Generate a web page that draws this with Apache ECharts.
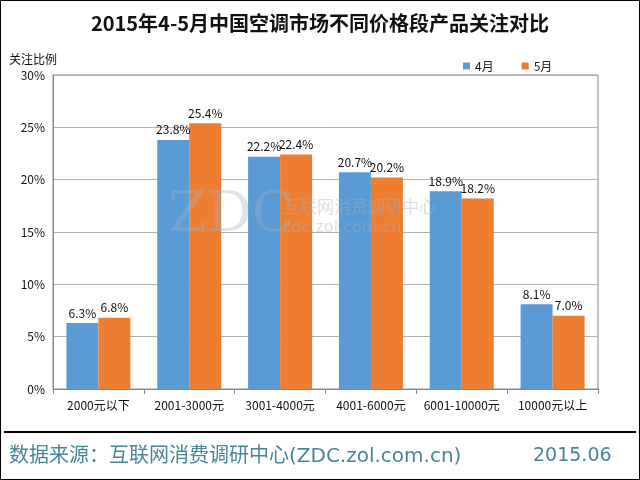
<!DOCTYPE html>
<html><head><meta charset="utf-8">
<script src="https://cdn.jsdelivr.net/npm/echarts@6/dist/echarts.min.js"></script>
<style>html,body{margin:0;padding:0;background:#fff}#c{width:640px;height:480px}</style>
</head><body><div id="c"></div>
<script>
const categories = ['2000元以下','2001-3000元','3001-4000元','4001-6000元','6001-10000元','10000元以上'];
const april = [6.3, 23.8, 22.2, 20.7, 18.9, 8.1];
const may = [6.8, 25.4, 22.4, 20.2, 18.2, 7.0];
const seriesNames = ['4月','5月'];
const yTicks = [0,5,10,15,20,25,30];

const chart = echarts.init(document.getElementById('c'));
const font = '"Noto Sans CJK SC", "Noto Sans", sans-serif';
const wideFont = '"DejaVu Sans", "Noto Sans CJK SC", sans-serif';
chart.setOption({
  backgroundColor: '#fff',
  animation: false,
  textStyle: {fontFamily: font},
  title: {
    text: '2015年4-5月中国空调市场不同价格段产品关注对比',
    left: 'center', top: 8,
    textStyle: {fontSize: 20, fontWeight: 'bold', color: '#111', fontFamily: font}
  },
  legend: {
    data: seriesNames, top: 55, left: 458, itemWidth: 7, itemHeight: 7, itemGap: 28,
    icon: 'rect',
    textStyle: {fontSize: 12, color: '#222'}
  },
  grid: {left: 53, right: 42, top: 75, bottom: 91},
  xAxis: {
    type: 'category', data: categories,
    axisLine: {lineStyle: {color: '#888'}},
    axisTick: {show: true, lineStyle: {color: '#888'}, length: 5},
    axisLabel: {color: '#111', fontSize: 12, margin: 10, interval: 0}
  },
  yAxis: {
    type: 'value', min: 0, max: 30, interval: 5,
    name: '关注比例', nameLocation: 'end', nameGap: 10,
    nameTextStyle: {color: '#111', fontSize: 12, align: 'right', padding: [0, -4, 0, 0]},
    axisLine: {show: true, lineStyle: {color: '#888'}},
    axisTick: {show: false},
    axisLabel: {color: '#111', fontSize: 12, formatter: v => v + '%'},
    splitLine: {lineStyle: {color: '#b0b0b0'}}
  },
  graphic: [
    {type: 'rect', shape: {x: 53, y: 75, width: 545, height: 314}, style: {fill: 'none', stroke: '#888', lineWidth: 1}, silent: true, z: 0},
    {type: 'text', left: 168, top: 188, style: {text: 'ZDC', fontSize: 56, fontFamily: 'DejaVu Serif', fill: 'rgba(160,175,200,0.35)'}, z: 10},
    {type: 'text', left: 283, top: 198, style: {text: '互联网消费调研中心', fontSize: 17, fontFamily: font, fill: 'rgba(160,175,200,0.4)'}, z: 10},
    {type: 'text', left: 283, top: 220, style: {text: 'zdc.zol.com.cn', fontSize: 16, fontFamily: 'DejaVu Sans', fill: 'rgba(160,175,200,0.4)'}, z: 10},
    {type: 'line', shape: {x1: 4, y1: 432, x2: 636, y2: 432}, style: {stroke: '#000', lineWidth: 2}},
    {type: 'text', left: 9, top: 447, style: {text: '数据来源：互联网消费调研中心(ZDC.zol.com.cn)', fontSize: 20, fontFamily: wideFont, fill: '#4a8598'}},
    {type: 'text', left: 533, top: 447, style: {text: '2015.06', fontSize: 19, fontFamily: wideFont, fill: '#4a8598'}},
    {type: 'rect', shape: {x: 0.5, y: 0.5, width: 639, height: 479}, style: {fill: 'none', stroke: '#000', lineWidth: 1}}
  ],
  series: [
    {name: seriesNames[0], type: 'bar', data: april, barWidth: 32, barGap: '0%', itemStyle: {color: '#5b9bd5'},
     label: {show: true, position: 'top', formatter: p => p.value.toFixed(1) + '%', color: '#111', fontSize: 12, distance: 4}},
    {name: seriesNames[1], type: 'bar', data: may, barWidth: 32, barGap: '0%', itemStyle: {color: '#ed7d31'},
     label: {show: true, position: 'top', formatter: p => p.value.toFixed(1) + '%', color: '#111', fontSize: 12, distance: 4}}
  ]
});
</script></body></html>
